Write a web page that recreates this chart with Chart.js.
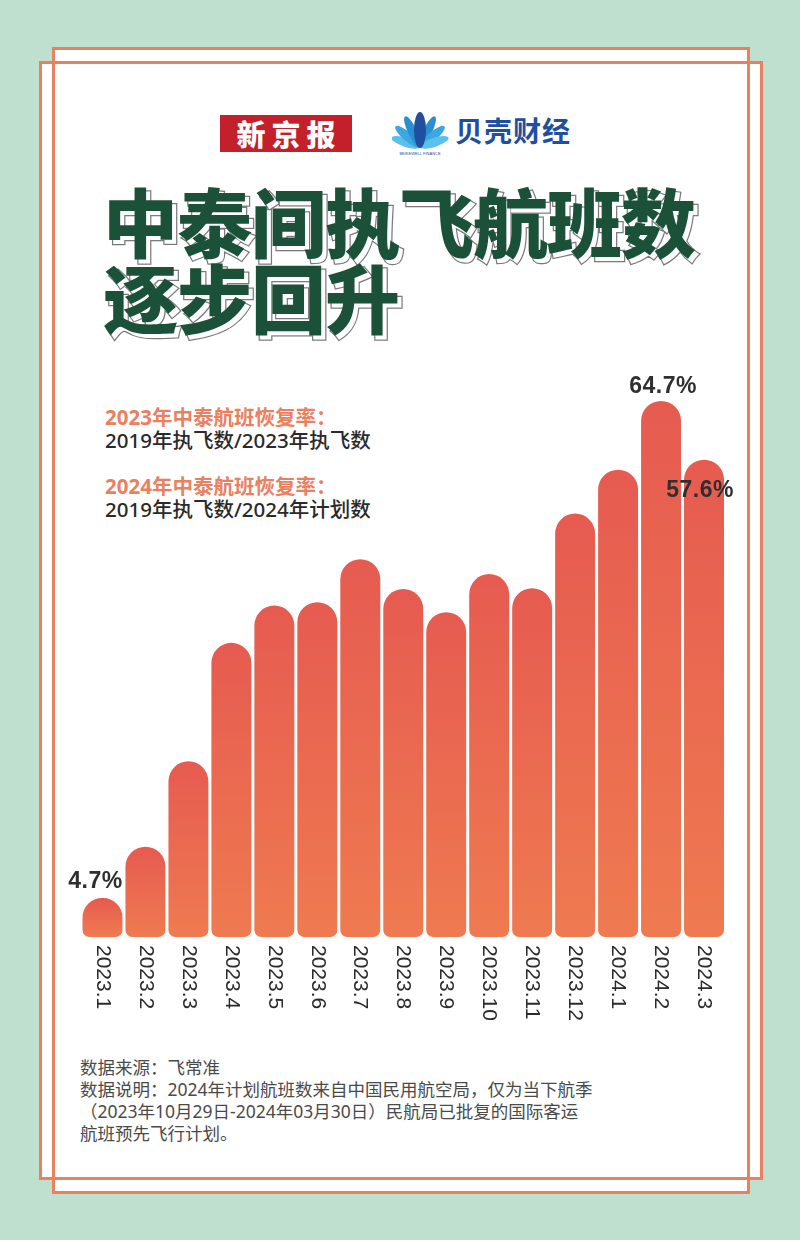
<!DOCTYPE html>
<html>
<head>
<meta charset="utf-8">
<script src="https://cdn.jsdelivr.net/npm/chart.js@4.4.1/dist/chart.umd.min.js"></script>
<style>
  html, body { margin: 0; padding: 0; }
  body { width: 800px; height: 1240px; background: #bfe0cf; position: relative; overflow: hidden; font-family: "Noto Sans", "Noto Sans CJK SC", sans-serif; }
  .frame { position: absolute; border: 3px solid #e9805f; box-sizing: border-box; }
  .f1 { left: 52px; top: 47px; width: 698px; height: 1147px; background: #fff; }
  .f2 { left: 39px; top: 61px; width: 724px; height: 1119px; background: #fff; }
  .f1line { left: 52px; top: 47px; width: 698px; height: 1147px; background: transparent; }
  .xjb { position: absolute; left: 220px; top: 115px; width: 132px; height: 37px; background: #c4202b; color: #fff; font-family: "Noto Sans CJK SC", serif; font-weight: 900; font-size: 29px; line-height: 37px; text-align: center; letter-spacing: 6px; text-indent: 6px; }
  .bk { position: absolute; left: 455px; top: 112px; color: #1f4f9e; font-family: "Noto Sans CJK SC"; font-weight: 700; font-size: 28px; line-height: 36px; letter-spacing: 1px; }
  .logo { position: absolute; left: 392px; top: 110px; }
  .title { position: absolute; left: 103px; top: 182px; font-family: "Noto Sans CJK SC"; font-weight: 900; font-size: 75px; line-height: 76px; letter-spacing: -1px; white-space: nowrap; }
  .tshadow { left: 107px; top: 186px; color: #fff; -webkit-text-stroke: 2.5px #7a7a7a; paint-order: stroke fill; }
  .tmain { color: #1b5138; }
  .leg { position: absolute; left: 105px; font-family: "Noto Sans", "Noto Sans CJK SC", sans-serif; font-size: 20.5px; line-height: 23px; white-space: nowrap; }
  .leg .h { color: #e9805f; font-weight: 700; }
  .leg .s { color: #2a2a2a; font-weight: 500; }
  .foot { position: absolute; left: 80px; top: 1056px; font-family: "Noto Sans", "Noto Sans CJK SC", sans-serif; font-size: 17.5px; line-height: 22px; color: #4a4a4a; font-weight: 400; white-space: nowrap; }
  #c { position: absolute; left: 0; top: 0; }
</style>
</head>
<body>
<div class="frame f1"></div>
<div class="frame f2"></div>
<div class="frame f1line"></div>

<div class="xjb">新京报</div>
<svg class="logo" width="60" height="50" viewBox="0 0 60 50">
  <g transform="translate(28,37)">
    <ellipse cx="0" cy="-15" rx="4.5" ry="15" fill="#5cc0ec" transform="rotate(-72)"/>
    <ellipse cx="0" cy="-16" rx="4.5" ry="16" fill="#3ba7e0" transform="rotate(-50)"/>
    <ellipse cx="0" cy="-17" rx="4.5" ry="17" fill="#2a8fd2" transform="rotate(-26)"/>
    <ellipse cx="0" cy="-17" rx="4.5" ry="17" fill="#2a8fd2" transform="rotate(26)"/>
    <ellipse cx="0" cy="-16" rx="4.5" ry="16" fill="#3ba7e0" transform="rotate(50)"/>
    <ellipse cx="0" cy="-15" rx="4.5" ry="15" fill="#5cc0ec" transform="rotate(72)"/>
    <ellipse cx="0" cy="-17" rx="6" ry="18" fill="#1f4f9e"/>
  </g>
  <text x="28" y="45" font-size="4" text-anchor="middle" fill="#1f4f9e" font-family="Liberation Sans">BEIKEWELL FINANCE</text>
</svg>
<div class="bk">贝壳财经</div>

<div class="title tshadow">中泰间执飞航班数<br>逐步回升</div>
<div class="title tmain">中泰间执飞航班数<br>逐步回升</div>

<div class="leg" style="top:406px"><div class="h">2023年中泰航班恢复率：</div><div class="s">2019年执飞数/2023年执飞数</div></div>
<div class="leg" style="top:475px"><div class="h">2024年中泰航班恢复率：</div><div class="s">2019年执飞数/2024年计划数</div></div>

<div class="foot">数据来源：飞常准<br>数据说明：2024年计划航班数来自中国民用航空局，仅为当下航季<br>（2023年10月29日-2024年03月30日）民航局已批复的国际客运<br>航班预先飞行计划。</div>

<canvas id="c" width="800" height="1240"></canvas>

<script>
// ---- data ----
const categories = ["2023.1","2023.2","2023.3","2023.4","2023.5","2023.6","2023.7","2023.8","2023.9","2023.10","2023.11","2023.12","2024.1","2024.2","2024.3"];
const recoveryRate = [4.7, 10.9, 21.2, 35.5, 40.0, 40.4, 45.6, 42.0, 39.2, 43.8, 42.1, 51.1, 56.4, 64.7, 57.6];
const labeledIndices = [0, 13, 14];
const yMax = 70;

// label placement style (offsets from bar center / top)
const labelOffsets = { 0: [-7, -16], 13: [2, -14], 14: [-4, 31] };

const labelPlugin = {
  id: 'customLabels',
  afterDatasetsDraw(chart) {
    const ctx = chart.ctx;
    const meta = chart.getDatasetMeta(0);
    const base = chart.scales.y.getPixelForValue(0);
    ctx.save();
    // rotated category labels (reading top to bottom)
    ctx.fillStyle = '#2b2b2b';
    ctx.font = '21px "Liberation Sans", Arial, sans-serif';
    ctx.textAlign = 'left';
    ctx.textBaseline = 'middle';
    categories.forEach((c, i) => {
      const x = chart.scales.x.getPixelForValue(i);
      ctx.save();
      ctx.translate(x, base + 8);
      ctx.rotate(Math.PI / 2);
      ctx.fillText(c, 0, 0);
      ctx.restore();
    });
    // value labels
    ctx.fillStyle = '#2f2f2f';
    ctx.font = 'bold 23px "Liberation Sans", Arial, sans-serif';
    try { ctx.letterSpacing = '0.5px'; } catch (e) {}
    ctx.textAlign = 'center';
    labeledIndices.forEach(i => {
      const bar = meta.data[i];
      const off = labelOffsets[i];
      ctx.fillText(recoveryRate[i].toFixed(1) + '%', bar.x + off[0], bar.y + off[1]);
    });
    ctx.restore();
  }
};

new Chart(document.getElementById('c'), {
  type: 'bar',
  data: {
    labels: categories,
    datasets: [{
      data: recoveryRate,
      backgroundColor: (context) => {
        const chart = context.chart;
        if (!chart.chartArea || context.raw === undefined) return '#ea6a50';
        const y = chart.scales.y;
        const top = y.getPixelForValue(context.raw);
        const bottom = y.getPixelForValue(0);
        const g = chart.ctx.createLinearGradient(0, top, 0, bottom);
        g.addColorStop(0, '#e65b50');
        g.addColorStop(1, '#ef7a50');
        return g;
      },
      borderWidth: 0,
      borderSkipped: false,
      borderRadius: { topLeft: 20, topRight: 20, bottomLeft: 7, bottomRight: 7 },
      barPercentage: 0.93,
      categoryPercentage: 1.0
    }]
  },
  options: {
    responsive: false,
    animation: false,
    devicePixelRatio: 1,
    layout: { padding: { left: 81, right: 74.5, top: 357, bottom: 303 } },
    plugins: { legend: { display: false }, tooltip: { enabled: false } },
    scales: {
      x: { display: false },
      y: { display: false, min: 0, max: yMax }
    }
  },
  plugins: [labelPlugin]
});
</script>
</body>
</html>
